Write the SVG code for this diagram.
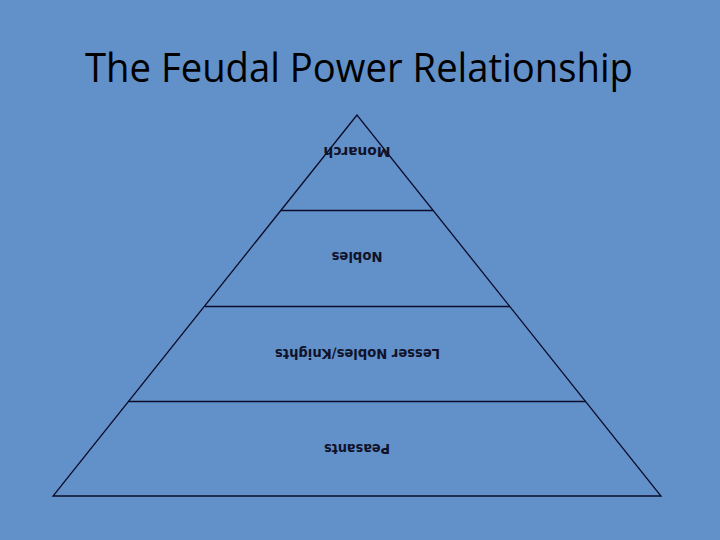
<svg xmlns="http://www.w3.org/2000/svg" width="720" height="540" viewBox="0 0 720 540">
<style>
.ln{stroke:#0b0c2a;stroke-width:1.3;fill:none}
.lbl{font-family:"DejaVu Sans","Liberation Sans",sans-serif;font-size:13.5px;font-weight:bold;fill:#10122a;text-anchor:middle}
.title{font-family:"Open Sans","Liberation Sans",sans-serif;font-size:40px;fill:#000;text-anchor:middle}
</style>
<rect width="720" height="540" fill="#6290c8"/>
<text class="title" x="359" y="82" textLength="548" lengthAdjust="spacingAndGlyphs">The Feudal Power Relationship</text>
<g id="connectors">
<polygon class="ln" points="357,115 53,496 661,496"/>
<line class="ln" x1="281" y1="210.5" x2="433" y2="210.5"/>
<line class="ln" x1="205" y1="306.5" x2="510" y2="306.5"/>
<line class="ln" x1="128.5" y1="401.5" x2="586" y2="401.5"/>
</g>
<g id="monarch"><text class="lbl" x="357" y="146.5" transform="rotate(180 357 146.5)" textLength="67" lengthAdjust="spacingAndGlyphs">Monarch</text></g>
<g id="nobles"><text class="lbl" x="357" y="252.3" transform="rotate(180 357 252.3)" textLength="51" lengthAdjust="spacingAndGlyphs">Nobles</text></g>
<g id="lesser"><text class="lbl" x="357.5" y="348.5" transform="rotate(180 357.5 348.5)" textLength="165" lengthAdjust="spacingAndGlyphs">Lesser Nobles/Knights</text></g>
<g id="peasants"><text class="lbl" x="357" y="443.5" transform="rotate(180 357 443.5)" textLength="66" lengthAdjust="spacingAndGlyphs">Peasants</text></g>
</svg>
